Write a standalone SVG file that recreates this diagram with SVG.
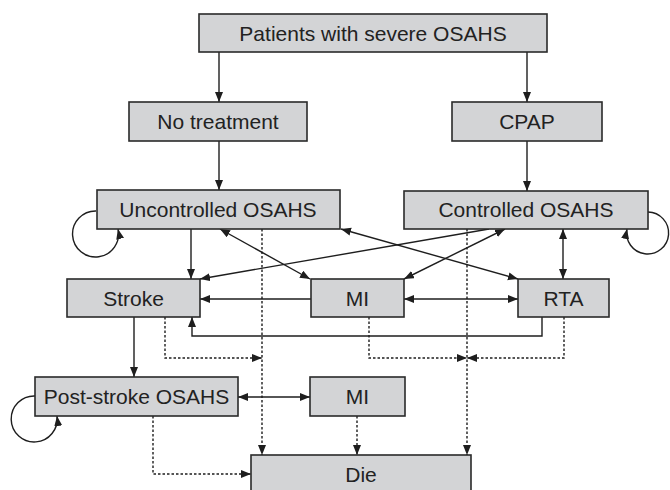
<svg xmlns="http://www.w3.org/2000/svg" width="670" height="490" viewBox="0 0 670 490">
<style>
.box{fill:#d3d4d6;stroke:#2a2a2a;stroke-width:1.6}
.lbl{font-family:"Liberation Sans",Arial,sans-serif;font-size:21px;fill:#222;text-anchor:middle}
.c{fill:none;stroke:#1e1e1e;stroke-width:1.4}
.d{fill:none;stroke:#1e1e1e;stroke-width:1.4;stroke-dasharray:2.5,2}
.a{marker-end:url(#ah)}
.b{marker-start:url(#ah);marker-end:url(#ah)}
</style>
<defs>
<marker id="ah" markerUnits="userSpaceOnUse" markerWidth="11" markerHeight="9" refX="10" refY="4" orient="auto-start-reverse">
<path d="M0,0 L10,4 L0,8 z" fill="#1e1e1e"/>
</marker>
</defs>
<rect width="670" height="490" fill="#fff"/>
<g id="connectors">
<path class="c a" d="M219,52 V102"/>
<path class="c a" d="M527,52 V102"/>
<path class="c a" d="M219,141 V190"/>
<path class="c a" d="M527,141 V191"/>
<path class="c a" d="M191,229 V279"/>
<path class="c b" d="M220,229 L310,279"/>
<path class="c b" d="M341,229 L518,279"/>
<path class="c a" d="M489,229 L200,279"/>
<path class="c b" d="M505,229 L404,279"/>
<path class="c b" d="M563,229 V279"/>
<path class="c a" d="M311,299 H200"/>
<path class="c b" d="M404,299 H518"/>
<path class="c a" d="M134,317 V377"/>
<path class="c a" d="M542,317 V336 H192 V317"/>
<path class="c b" d="M238,397 H310"/>
<path class="c a" d="M96,211 A23,23 0 1 0 118,229"/>
<path class="c a" d="M648,212 A21,21 0 1 1 627,229"/>
<path class="c a" d="M35,396 A23,23 0 1 0 57,416"/>
<path class="d a" d="M262,229 V455"/>
<path class="d a" d="M467,229 V455"/>
<path class="d a" d="M165,317 V358 H262"/>
<path class="d a" d="M369,317 V358 H467"/>
<path class="d a" d="M564,317 V358 H467"/>
<path class="d a" d="M357,416 V455"/>
<path class="d a" d="M153,416 V474 H251"/>
</g>
<g id="patients"><rect class="box" x="199" y="14" width="348" height="38"/><text class="lbl" x="373" y="40.5">Patients with severe OSAHS</text></g>
<g id="notreatment"><rect class="box" x="129" y="102" width="178" height="39"/><text class="lbl" x="218" y="129">No treatment</text></g>
<g id="cpap"><rect class="box" x="452" y="102" width="150" height="39"/><text class="lbl" x="527" y="129">CPAP</text></g>
<g id="uncontrolled"><rect class="box" x="97" y="190" width="243" height="39"/><text class="lbl" x="218" y="217">Uncontrolled OSAHS</text></g>
<g id="controlled"><rect class="box" x="404" y="191" width="244" height="38"/><text class="lbl" x="526" y="217">Controlled OSAHS</text></g>
<g id="stroke"><rect class="box" x="67" y="279" width="133" height="38"/><text class="lbl" x="133.5" y="305.5">Stroke</text></g>
<g id="mi"><rect class="box" x="311" y="279" width="93" height="38"/><text class="lbl" x="357.5" y="305.5">MI</text></g>
<g id="rta"><rect class="box" x="518" y="279" width="91" height="38"/><text class="lbl" x="563.5" y="305.5">RTA</text></g>
<g id="poststroke"><rect class="box" x="35" y="377" width="203" height="39"/><text class="lbl" x="136.5" y="404">Post-stroke OSAHS</text></g>
<g id="mi2"><rect class="box" x="310" y="377" width="95" height="39"/><text class="lbl" x="357.5" y="404">MI</text></g>
<g id="die"><rect class="box" x="251" y="455" width="220" height="40"/><text class="lbl" x="361" y="481.5">Die</text></g>
</svg>
